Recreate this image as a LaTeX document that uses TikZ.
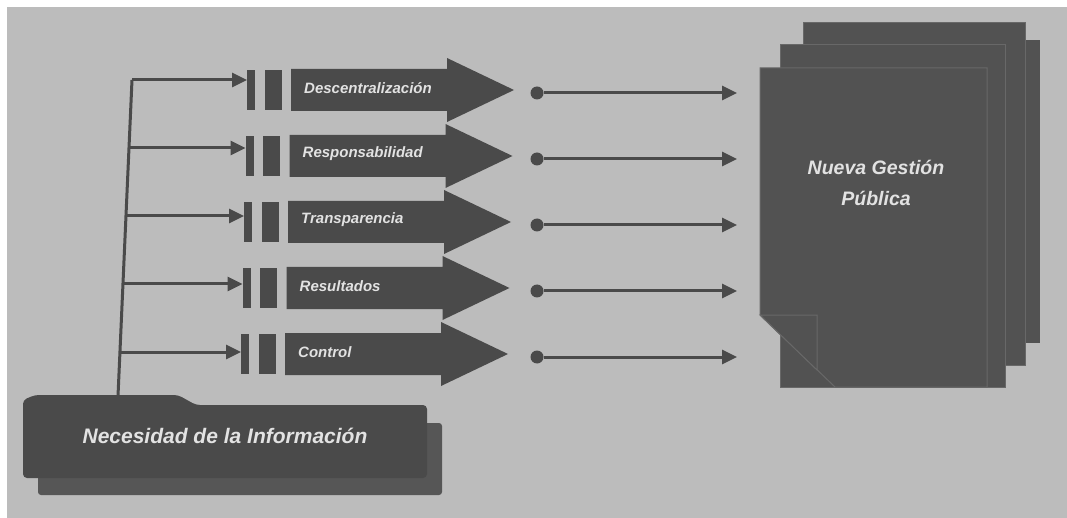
\documentclass[tikz,border=0pt]{standalone}
\usepackage{fontspec}
\setmainfont{Liberation Sans}
\usetikzlibrary{arrows.meta,positioning}

\definecolor{fondo}{RGB}{188,188,188}
\definecolor{oscuro}{RGB}{74,74,74}
\definecolor{sombra}{RGB}{86,86,86}
\definecolor{hoja}{RGB}{82,82,82}
\definecolor{borde}{RGB}{104,104,104}
\definecolor{letra}{RGB}{226,226,226}

\tikzset{
  barra/.style={fill=oscuro, inner sep=0pt, minimum height=40pt},
  rotulo/.style={text=letra, inner sep=0pt, anchor=west,
    font=\bfseries\itshape\fontsize{15}{17}\selectfont},
  punto/.style={circle, fill=oscuro, minimum size=13pt, inner sep=0pt},
  tronco/.style={draw=oscuro, line width=3pt},
  enlace/.style={draw=oscuro, line width=3pt, -{Triangle[length=15pt,width=14pt]}},
  hojas/.style={fill=hoja, draw=borde, line width=1pt},
}

\begin{document}
\begin{tikzpicture}[x=1pt,y=-1pt]
\useasboundingbox (0,0) rectangle (1067,518);
\fill[white] (0,0) rectangle (1067,518);
\fill[fondo] (7,7) rectangle (1067,518);

% pila de hojas
\fill[hoja] (820,40) rectangle (1040,343);
\filldraw[hojas] (803,23) rectangle (1025,365);
\filldraw[hojas] (780,45) rectangle (1005,387);
\filldraw[hojas] (760,68) -- (987,68) -- (987,387) -- (835,387) -- (760,315) -- cycle;
\filldraw[hojas] (760,315) -- (817,315) -- (817,370) -- cycle;
\node[text=letra, align=center, font=\bfseries\itshape\fontsize{19.5}{31}\selectfont]
  (ngp) at (876,183) {Nueva Gestión\\Pública};

% caja inferior
\fill[sombra, rounded corners=3pt] (38,423) rectangle (442,495);
\fill[oscuro, rounded corners=4pt] (23,478) -- (23,400) -- (35,395) -- (178,395)
  -- (196,405) -- (427,405) -- (427,478) -- cycle;
\node[text=letra, font=\bfseries\itshape\fontsize{21}{24}\selectfont]
  (nec) at (225,436) {Necesidad de la Información};

% tronco
\coordinate (arriba) at (132,80);
\coordinate (base) at (118,396);
\draw[tronco] (arriba) -- (base);

% filas
\foreach \lab [count=\i] in {Descentralización,Responsabilidad,Transparencia,Resultados,Control}{
  \pgfmathsetmacro\c{90+66*(\i-1)}
  \pgfmathsetmacro\l{80+68*(\i-1)}
  \pgfmathsetmacro\tx{132-3*(\i-1)}
  \pgfmathsetmacro\s{-1.5*(\i-1)}
  \coordinate (t\i) at (\tx,\l);
  \node[barra, minimum width=8pt, anchor=west] (a\i) at (247+\s,\c) {};
  \node[barra, minimum width=17pt, right=9pt of a\i] (b\i) {};
  \fill[oscuro] (291+\s,\c-21) -- (447+\s,\c-21) -- (447+\s,\c-32) -- (514+\s,\c)
    -- (447+\s,\c+32) -- (447+\s,\c+21) -- (291+\s,\c+21) -- cycle;
  \node[rotulo] (r\i) at (304+\s,\c-2) {\lab};
  \draw[enlace] (t\i) -- (t\i -| a\i.west);
  \node[punto] (d\i) at (537,\c+3) {};
  \coordinate (e\i) at (737,\c+3);
  \draw[enlace] (d\i) -- (e\i);
}
\end{tikzpicture}
\end{document}
